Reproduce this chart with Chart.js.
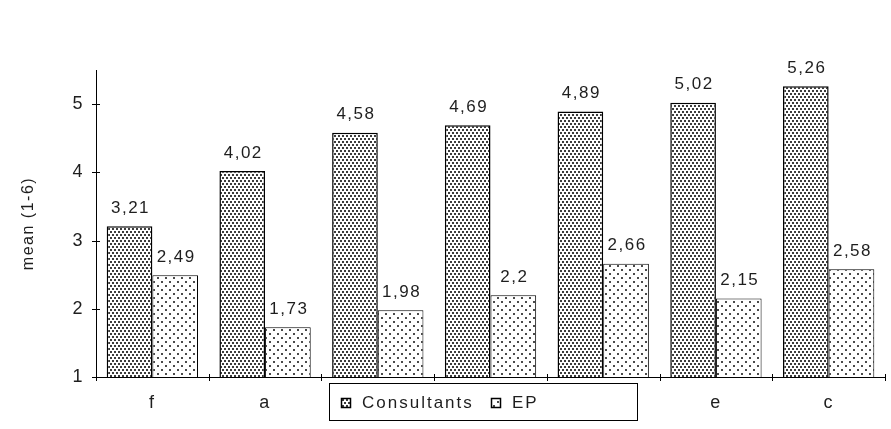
<!DOCTYPE html>
<html>
<head>
<meta charset="utf-8">
<script src="https://cdn.jsdelivr.net/npm/chart.js@4.4.1/dist/chart.umd.min.js"></script>
<style>
  html, body { margin: 0; padding: 0; background: #ffffff; }
  #wrap { width: 891px; height: 429px; }
</style>
</head>
<body>
<div id="wrap"><canvas id="c" width="891" height="429"></canvas></div>
<script>
// Mean ratings (scale 1-6) per item, two respondent groups
const categories = ['f', 'a', '', '', '', 'e', 'c'];
const consultants = [3.21, 4.02, 4.58, 4.69, 4.89, 5.02, 5.26];
const ep = [2.49, 1.73, 1.98, 2.2, 2.66, 2.15, 2.58];
const yTickValues = [1, 2, 3, 4, 5];
const seriesNames = ['Consultants', 'EP'];

const FONT = '"Liberation Sans", Arial, sans-serif';
const TEXT = '#1e1e1e';

// Dotted fill textures for the two series
function makePattern(kind) {
  const t = document.createElement('canvas');
  const g = t.getContext('2d');
  if (kind === 'dense') {
    t.width = 4; t.height = 6;
    g.fillStyle = '#ffffff';
    g.fillRect(0, 0, 4, 6);
    g.fillStyle = '#3c3c3c';
    g.fillRect(0, 0, 2, 2);
    g.fillRect(2, 3, 2, 2);
  } else {
    t.width = 8; t.height = 8;
    g.fillStyle = '#ffffff';
    g.fillRect(0, 0, 8, 8);
    g.fillStyle = '#4a4a4a';
    g.fillRect(1, 1, 2, 2);
    g.fillRect(5, 5, 2, 2);
  }
  return document.getElementById('c').getContext('2d').createPattern(t, 'repeat');
}
const denseFill = makePattern('dense');
const sparseFill = makePattern('sparse');

// Wide letter spacing for all canvas text
const spacingPlugin = {
  id: 'spacing',
  beforeUpdate(chart) { chart.ctx.letterSpacing = '1.5px'; },
  beforeDraw(chart) { chart.ctx.letterSpacing = '1.5px'; }
};

// Tick marks that cross the axis lines
const crossTicks = {
  id: 'crossTicks',
  afterDraw(chart) {
    const { ctx, chartArea: a, scales: { x, y } } = chart;
    ctx.save();
    ctx.strokeStyle = '#000';
    ctx.lineWidth = 1;
    ctx.beginPath();
    yTickValues.forEach(v => {
      const py = Math.round(y.getPixelForValue(v)) + 0.5;
      ctx.moveTo(a.left - 4, py);
      ctx.lineTo(a.left + 4, py);
    });
    const n = categories.length;
    for (let i = 0; i <= n; i++) {
      const px = Math.round(a.left + i * (a.right - a.left) / n) + 0.5;
      ctx.moveTo(px, a.bottom - 3);
      ctx.lineTo(px, a.bottom + 4);
    }
    ctx.stroke();
    ctx.restore();
  }
};

// Value labels above every bar, decimal comma
const valueLabels = {
  id: 'valueLabels',
  afterDatasetsDraw(chart) {
    const { ctx } = chart;
    ctx.save();
    ctx.letterSpacing = '1.5px';
    ctx.font = '17px ' + FONT;
    ctx.fillStyle = TEXT;
    ctx.textAlign = 'center';
    ctx.textBaseline = 'middle';
    chart.data.datasets.forEach((ds, di) => {
      chart.getDatasetMeta(di).data.forEach((el, i) => {
        const txt = String(ds.data[i]).replace('.', ',');
        ctx.fillText(txt, el.x + 1, el.y - 18);
      });
    });
    ctx.restore();
  }
};

// Boxed legend sitting over the axis label row
const boxLegend = {
  id: 'boxLegend',
  afterDraw(chart) {
    const { ctx, chartArea: a } = chart;
    const left = a.left + 233, top = a.bottom + 6, w = 308, h = 37;
    ctx.save();
    ctx.fillStyle = '#ffffff';
    ctx.fillRect(left, top, w, h);
    ctx.strokeStyle = '#000';
    ctx.lineWidth = 1;
    ctx.strokeRect(left + 0.5, top + 0.5, w, h);
    const fills = [denseFill, sparseFill];
    const xs = [left + 12, left + 162];
    ctx.letterSpacing = '2px';
    ctx.font = '17px ' + FONT;
    ctx.textBaseline = 'middle';
    const cy = top + 20;
    seriesNames.forEach((name, i) => {
      ctx.fillStyle = fills[i];
      ctx.fillRect(xs[i], cy - 5, 10, 10);
      ctx.strokeStyle = '#000';
      ctx.lineWidth = 1.5;
      ctx.strokeRect(xs[i] + 0.5, cy - 4.5, 9, 9);
      ctx.fillStyle = TEXT;
      ctx.fillText(name, xs[i] + 21, cy);
    });
    ctx.restore();
  }
};

new Chart(document.getElementById('c'), {
  type: 'bar',
  data: {
    labels: categories,
    datasets: [
      { label: seriesNames[0], data: consultants, backgroundColor: denseFill,
        borderColor: '#000', borderWidth: 1.5, categoryPercentage: 0.81, barPercentage: 1.0 },
      { label: seriesNames[1], data: ep, backgroundColor: sparseFill,
        borderColor: '#000', borderWidth: 1, categoryPercentage: 0.81, barPercentage: 1.0 }
    ]
  },
  options: {
    responsive: false,
    animation: false,
    layout: { padding: { left: 0, right: 6, top: 70, bottom: 0 } },
    plugins: { legend: { display: false }, tooltip: { enabled: false } },
    scales: {
      x: {
        grid: { display: false, drawTicks: false },
        border: { display: true, color: '#000', width: 1 },
        ticks: { color: TEXT, font: { family: FONT, size: 18 }, padding: 15, maxRotation: 0 },
        afterFit(s) { s.height = 52; }
      },
      y: {
        min: 1,
        max: 5.5,
        grid: { display: false, drawTicks: false },
        border: { display: true, color: '#000', width: 1 },
        ticks: { stepSize: 1, color: TEXT, font: { family: FONT, size: 18 }, padding: 12 },
        afterBuildTicks(s) { s.ticks = yTickValues.map(v => ({ value: v })); },
        title: { display: true, text: 'mean (1-6)', color: TEXT,
                 font: { family: FONT, size: 16 }, padding: { top: 19, bottom: 0 } },
        afterFit(s) { s.width = 96; }
      }
    }
  },
  plugins: [spacingPlugin, valueLabels, crossTicks, boxLegend]
});
</script>
</body>
</html>
